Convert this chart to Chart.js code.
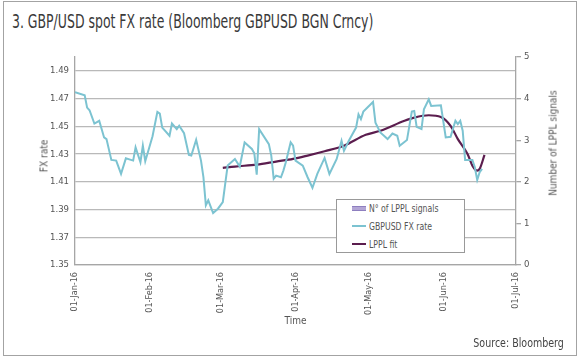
<!DOCTYPE html>
<html>
<head>
<meta charset="utf-8">
<script src="https://cdn.jsdelivr.net/npm/chart.js@4.4.1/dist/chart.umd.min.js"></script>
<style>
  html, body { margin: 0; padding: 0; background: #fff; }
  body { width: 580px; height: 358px; position: relative; overflow: hidden;
         font-family: "Liberation Sans Narrow", "DejaVu Sans Condensed", "Roboto", sans-serif; color: #333; }
  #frame { position: absolute; left: 3px; top: 1px; width: 572px; height: 353px; border: 1px solid #a3a3a3; }
  #title { position: absolute; left: 12px; top: 10px; font-size: 19px; white-space: nowrap; color: #3a3a3a;
           transform: scaleX(0.73); transform-origin: left top; }
  #wrap { position: absolute; left: 0; top: 0; width: 580px; height: 358px; }
  .ytitle { position: absolute; font-size: 10px; white-space: nowrap; color: #555;
            transform: translate(-50%, -50%) rotate(-90deg); }
  #source { position: absolute; right: 16px; top: 336px; font-size: 12px; color: #444; white-space: nowrap;
            transform: scaleX(0.88); transform-origin: right top; }
  #legend { position: absolute; left: 336px; top: 199px; width: 127px; height: 52px;
            border: 1px solid #999; background: #fff; font-size: 10.5px; color: #555; }
  #legend .row { position: absolute; left: 15px; height: 14px; display: flex; align-items: center; white-space: nowrap; }
  #legend .sym { width: 14px; margin-right: 3px; flex: none; }
  #legend .txt { display: inline-block; transform: scaleX(0.82); transform-origin: left center; }
</style>
</head>
<body>
<div id="frame"></div>
<div id="title">3. GBP/USD spot FX rate (Bloomberg GBPUSD BGN Crncy)</div>
<div id="wrap"><canvas id="chart" width="580" height="358"></canvas></div>
<div class="ytitle" style="left:44px; top:156px;">FX rate</div>
<div class="ytitle" style="left:553px; top:143px;">Number of LPPL signals</div>
<div id="legend"></div>
<div id="source">Source: Bloomberg</div>
<script>
// days counted from 01-Jan-16
const MONTH_DAYS = [0, 31, 60, 91, 121, 152, 182];
const MONTH_LABELS = ["01-Jan-16", "01-Feb-16", "01-Mar-16", "01-Apr-16", "01-May-16", "01-Jun-16", "01-Jul-16"];
const FX_TICKS = [1.35, 1.37, 1.39, 1.41, 1.43, 1.45, 1.47, 1.49];

const FX_DAYS = [0, 4, 5, 6, 8, 10, 12, 13, 15, 17, 19, 21, 24, 25, 27, 28, 29, 32, 34, 35,
  36, 39, 40, 42, 43, 45, 47, 48, 50, 52, 53, 54, 55, 57, 59, 61, 62, 63, 66, 68,
  70, 73, 74, 75, 76, 80, 81, 82, 83, 85, 86, 87, 89, 90, 91, 94, 96, 98, 100, 103,
  105, 108, 110, 111, 113, 116, 117, 118, 119, 123, 124, 126, 129, 131, 133, 134, 137, 139, 140, 141,
  143, 144, 146, 147, 151, 153, 155, 157, 158, 159, 160, 161, 164, 165, 166, 167, 168];
const FX_RATE = [1.4747, 1.4724, 1.4635, 1.4616, 1.4520, 1.4540, 1.4420, 1.4408, 1.4258, 1.4253, 1.4157, 1.4269, 1.4253, 1.4348, 1.4241, 1.4360, 1.4248, 1.4428, 1.4604, 1.4592,
  1.4491, 1.4432, 1.4520, 1.4480, 1.4504, 1.4450, 1.4294, 1.4289, 1.4403, 1.4253, 1.4133, 1.3930, 1.3966, 1.3875, 1.3906, 1.3954, 1.4086, 1.4217, 1.4265, 1.4210,
  1.4384, 1.4337, 1.4305, 1.4152, 1.4480, 1.4372, 1.4289, 1.4122, 1.4145, 1.4133, 1.4181, 1.4241, 1.4384, 1.4360, 1.4253, 1.4217, 1.4133, 1.4057, 1.4157, 1.4272,
  1.4157, 1.4265, 1.4396, 1.4324, 1.4396, 1.4491, 1.4587, 1.4552, 1.4606, 1.4676, 1.4527, 1.4456, 1.4408, 1.4448, 1.4432, 1.4360, 1.4401, 1.4606, 1.4611, 1.4496,
  1.4480, 1.4623, 1.4695, 1.4647, 1.4652, 1.4420, 1.4425, 1.4540, 1.4516, 1.4540, 1.4468, 1.4258, 1.4258, 1.4205, 1.4114, 1.4169, 1.4193];

const FIT_DAYS = [61, 66, 75, 83, 90, 96, 103, 111, 120, 126, 136, 140, 146, 151, 155, 158, 162, 164, 166, 167, 169];
const FIT_VALUES = [1.4200, 1.4210, 1.4224, 1.4246, 1.4265, 1.4289, 1.4320, 1.4360, 1.4439, 1.4468, 1.4540, 1.4563, 1.4580, 1.4568, 1.4504, 1.4408, 1.4301, 1.4217, 1.4181, 1.4193, 1.4294];

// no bars visible in the picture
const SIGNAL_DAYS = [];
const SIGNAL_COUNTS = [];

const FX_COLOR = "#7cc3d1";
const FIT_COLOR = "#5b1d4e";
const SIGNAL_COLOR = "#b3a6d6";
const GRID_COLOR = "#b9b9b9";
const AXIS_COLOR = "#a6a6a6";
const FONT = "'Liberation Sans Narrow', 'DejaVu Sans Condensed', sans-serif";

function pairs(xs, ys) {
  return xs.map((x, i) => ({ x, y: ys[i] }));
}

const chart = new Chart(document.getElementById("chart"), {
  data: {
    datasets: [
      {
        type: "bar",
        label: "N\u00b0 of LPPL signals",
        data: pairs(SIGNAL_DAYS, SIGNAL_COUNTS),
        backgroundColor: SIGNAL_COLOR,
        yAxisID: "y1",
      },
      {
        type: "line",
        label: "GBPUSD FX rate",
        data: pairs(FX_DAYS, FX_RATE),
        borderColor: FX_COLOR,
        borderWidth: 2,
        pointRadius: 0,
        tension: 0,
        yAxisID: "y",
      },
      {
        type: "line",
        label: "LPPL fit",
        data: pairs(FIT_DAYS, FIT_VALUES),
        borderColor: FIT_COLOR,
        borderWidth: 2.2,
        pointRadius: 0,
        cubicInterpolationMode: "monotone",
        yAxisID: "y",
      },
    ],
  },
  options: {
    responsive: false,
    animation: false,
    layout: { padding: { top: 57, left: 0, right: 0, bottom: 28 } },
    plugins: {
      legend: { display: false },
      tooltip: { enabled: false },
    },
    scales: {
      x: {
        type: "linear",
        offset: false,
        min: 0,
        max: 182,
        afterBuildTicks: (scale) => {
          scale.ticks = MONTH_DAYS.map((value) => ({ value }));
        },
        afterFit: (scale) => { scale.height = 65; },
        ticks: {
          autoSkip: false,
          minRotation: 90,
          maxRotation: 90,
          padding: 7,
          color: "#555",
          font: { family: FONT, size: 9 },
          callback: (value) => MONTH_LABELS[MONTH_DAYS.indexOf(value)] ?? "",
        },
        grid: { display: false, drawTicks: false },
        border: { display: true, color: AXIS_COLOR, width: 1.3 },
        title: {
          display: true,
          text: "Time",
          color: "#555",
          font: { family: FONT, size: 10 },
          padding: { top: 0, bottom: 3 },
        },
      },
      y: {
        position: "left",
        min: 1.35,
        max: 1.5,
        afterBuildTicks: (scale) => {
          scale.ticks = FX_TICKS.map((value) => ({ value }));
        },
        afterFit: (scale) => { scale.width = 75; },
        ticks: {
          padding: 6,
          color: "#555",
          font: { family: FONT, size: 9.5 },
          callback: (value) => value.toFixed(2),
        },
        grid: { color: GRID_COLOR, lineWidth: 1.3, drawTicks: false },
        border: { display: true, color: AXIS_COLOR, width: 1.3 },
      },
      y1: {
        position: "right",
        min: 0,
        max: 5,
        afterFit: (scale) => { scale.width = 64; },
        ticks: {
          stepSize: 1,
          padding: 3,
          color: "#555",
          font: { family: FONT, size: 9.5 },
        },
        grid: { drawOnChartArea: false, drawTicks: true, tickLength: 5, color: AXIS_COLOR, lineWidth: 1.3 },
        border: { display: true, color: AXIS_COLOR, width: 1.3 },
      },
    },
  },
});

// legend drawn as html, built from the chart's datasets
const legendBox = document.getElementById("legend");
chart.data.datasets.forEach((ds, i) => {
  const row = document.createElement("div");
  row.className = "row";
  row.style.top = (1 + i * 18) + "px";
  const sym = document.createElement("div");
  sym.className = "sym";
  if (ds.type === "bar") {
    sym.style.height = "3px";
    sym.style.background = ds.backgroundColor;
    sym.style.borderTop = "1px solid #8e7fbf";
    sym.style.borderBottom = "1px solid #8e7fbf";
  } else {
    sym.style.height = "2px";
    sym.style.background = ds.borderColor;
  }
  const text = document.createElement("span");
  text.className = "txt";
  text.textContent = ds.label;
  row.appendChild(sym);
  row.appendChild(text);
  legendBox.appendChild(row);
});
</script>
</body>
</html>
